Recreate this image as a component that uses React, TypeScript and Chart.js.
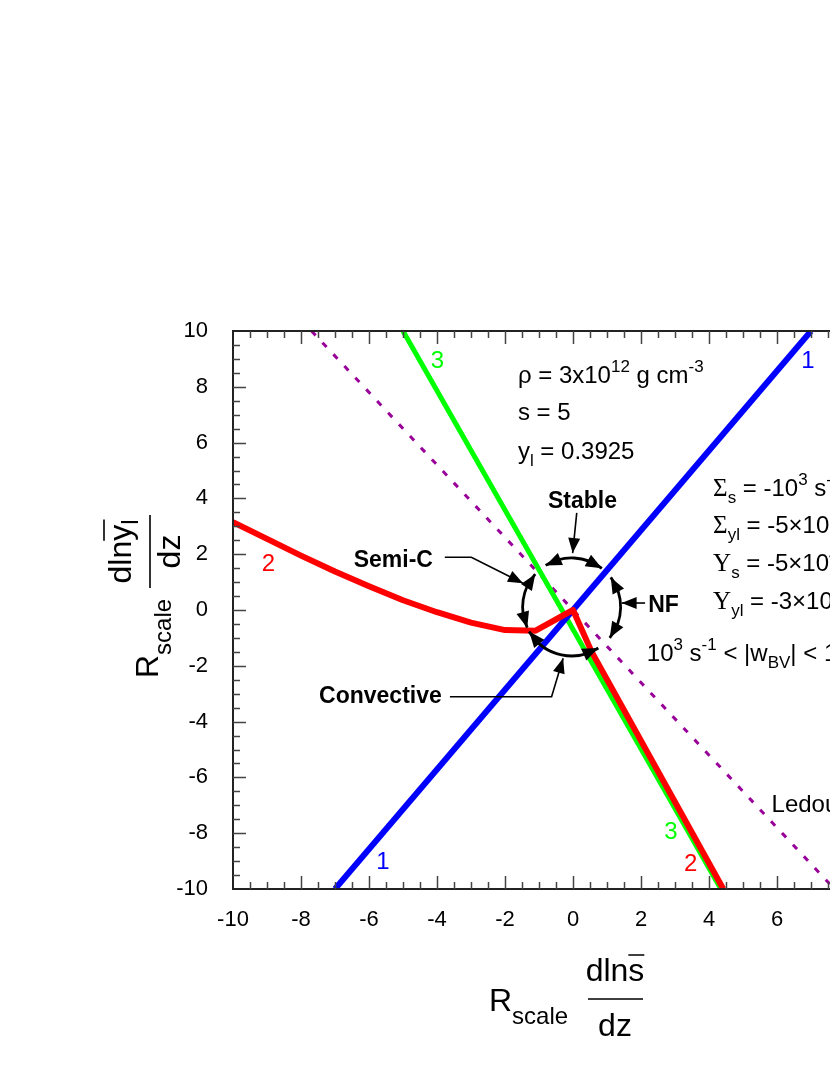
import React, { useEffect, useRef } from 'react';
import { Chart, registerables } from 'chart.js';

Chart.register(...registerables);

// ---------- axes ----------
const X_MIN = -10;
const X_MAX = 10;
const Y_MIN = -10;
const Y_MAX = 10;
const MAJOR_STEP = 2;
const MINOR_STEP = 0.5;

// ---------- curve 1 (blue) ----------
const curve1X = [-7, 7];
const curve1Y = [-10, 10];

// ---------- curve 3 (green) ----------
const curve3X = [-5, 4.35];
const curve3Y = [10, -10];

// ---------- curve 2 (red) ----------
const curve2X = [-10, -9, -8, -7, -6, -5, -4, -3, -2, -1.1, 0, 0.55, 4.42];
const curve2Y = [3.15, 2.55, 1.95, 1.38, 0.85, 0.35, -0.08, -0.45, -0.72, -0.74, 0, -1.5, -10];

// ---------- Ledoux criterion (purple dotted) ----------
const ledouxX = [-7.69, 7.69];
const ledouxY = [10, -10];

// ---------- colours / fonts ----------
const BLUE = '#0000ff';
const GREEN = '#00ff00';
const RED = '#ff0000';
const PURPLE = '#990099';
const SANS = "'Liberation Sans', Arial, Helvetica, sans-serif";
const SERIF = "'Liberation Serif', 'Times New Roman', serif";

const pts = (xs: number[], ys: number[]) => xs.map((x, i) => ({ x, y: ys[i] }));

type Seg = { t: string; s: number; dy?: number; serif?: boolean; bold?: boolean };

const sub = (t: string): Seg => ({ t, s: 17, dy: 7 });
const sup = (t: string): Seg => ({ t, s: 17, dy: -11 });
const txt = (t: string): Seg => ({ t, s: 24 });
const grk = (t: string): Seg => ({ t, s: 25, serif: true });

// text annotations in data coordinates (left / baseline)
const infoLines: { x: number; y: number; segs: Seg[] }[] = [
  { x: -1.62, y: 8.15, segs: [txt('ρ = 3x10'), sup('12'), txt(' g cm'), sup('-3')] },
  { x: -1.62, y: 6.8, segs: [txt('s = 5')] },
  { x: -1.62, y: 5.42, segs: [txt('y'), sub('l'), txt(' = 0.3925')] },
  { x: 4.12, y: 4.08, segs: [grk('Σ'), sub('s'), txt(' = -10'), sup('3'), txt(' s'), sup('-1')] },
  { x: 4.12, y: 2.76, segs: [grk('Σ'), sub('yl'), txt(' = -5×10'), sup('2'), txt(' s'), sup('-1')] },
  { x: 4.12, y: 1.4, segs: [grk('Υ'), sub('s'), txt(' = -5×10'), sup('4'), txt(' s'), sup('-1')] },
  { x: 4.12, y: 0.03, segs: [grk('Υ'), sub('yl'), txt(' = -3×10'), sup('3'), txt(' s'), sup('-1')] },
  {
    x: 2.17,
    y: -1.82,
    segs: [txt('10'), sup('3'), txt(' s'), sup('-1'), txt(' < |w'), sub('BV'), txt('| < 10'), sup('4'), txt(' s'), sup('-1')],
  },
  { x: 5.84, y: -7.23, segs: [txt('Ledoux')] },
];

// curve number labels (centre)
const curveLabels = [
  { t: '3', x: -3.99, y: 8.92, c: GREEN },
  { t: '1', x: 6.91, y: 8.92, c: BLUE },
  { t: '2', x: -8.96, y: 1.65, c: RED },
  { t: '1', x: -5.59, y: -9.03, c: BLUE },
  { t: '3', x: 2.88, y: -7.97, c: GREEN },
  { t: '2', x: 3.46, y: -9.1, c: RED },
];

// bold regime labels (anchor / baseline)
const regimeLabels: { t: string; x: number; y: number; align: CanvasTextAlign }[] = [
  { t: 'Stable', x: 0.28, y: 3.66, align: 'center' },
  { t: 'Semi-C', x: -4.12, y: 1.55, align: 'right' },
  { t: 'NF', x: 2.21, y: -0.06, align: 'left' },
  { t: 'Convective', x: -3.86, y: -3.33, align: 'right' },
];

// callout arrows (polyline in data coords, arrow at last point)
const callouts: number[][][] = [
  [[0.11, 3.48], [-0.01, 2.04]],
  [[-3.77, 1.89], [-2.99, 1.89], [-1.47, 0.96]],
  [[2.12, 0.25], [1.43, 0.25]],
  [[-3.62, -3.11], [-0.63, -3.11], [-0.29, -1.73]],
];

// regime circle
const CIRCLE_CX = -0.04;
const CIRCLE_CY = 0.11;
const CIRCLE_R_PX = 49;
// arcs (canvas degrees, start tip -> end tip)
const circleArcs = [
  [-122, -52],
  [-37, 39],
  [57, 150],
  [155, 222],
];

function fontOf(s: Seg) {
  return `${s.bold ? 'bold ' : ''}${s.s}px ${s.serif ? SERIF : SANS}`;
}

function drawRich(ctx: CanvasRenderingContext2D, segs: Seg[], x: number, y: number) {
  ctx.textAlign = 'left';
  ctx.textBaseline = 'alphabetic';
  let cx = x;
  for (const s of segs) {
    ctx.font = fontOf(s);
    ctx.fillText(s.t, cx, y + (s.dy || 0));
    cx += ctx.measureText(s.t).width;
  }
}

function arrowHead(ctx: CanvasRenderingContext2D, tx: number, ty: number, fx: number, fy: number, L = 14, W = 11) {
  const dx = tx - fx;
  const dy = ty - fy;
  const d = Math.hypot(dx, dy) || 1;
  const ux = dx / d;
  const uy = dy / d;
  const bx = tx - ux * L;
  const by = ty - uy * L;
  ctx.beginPath();
  ctx.moveTo(tx, ty);
  ctx.lineTo(bx - (uy * W) / 2, by + (ux * W) / 2);
  ctx.lineTo(bx + (uy * W) / 2, by - (ux * W) / 2);
  ctx.closePath();
  ctx.fill();
}

const overlay = {
  id: 'overlay',
  afterDraw(chart: any) {
    const { ctx, chartArea } = chart;
    const { left, right, top, bottom } = chartArea;
    const xs = chart.scales.x;
    const ys = chart.scales.y;
    const px = (v: number) => xs.getPixelForValue(v);
    const py = (v: number) => ys.getPixelForValue(v);
    ctx.save();

    // frame
    ctx.strokeStyle = '#222';
    ctx.lineWidth = 2;
    ctx.strokeRect(left, top, right - left, bottom - top);

    // inward ticks
    ctx.strokeStyle = '#444';
    ctx.lineWidth = 1.5;
    const nx = Math.round((X_MAX - X_MIN) / MINOR_STEP);
    for (let i = 1; i < nx; i++) {
      const v = X_MIN + i * MINOR_STEP;
      const len = Math.abs(v / MAJOR_STEP - Math.round(v / MAJOR_STEP)) < 1e-6 ? 13 : 7;
      const p = Math.round(px(v)) + 0.5;
      ctx.beginPath();
      ctx.moveTo(p, bottom);
      ctx.lineTo(p, bottom - len);
      ctx.moveTo(p, top);
      ctx.lineTo(p, top + len);
      ctx.stroke();
    }
    const ny = Math.round((Y_MAX - Y_MIN) / MINOR_STEP);
    for (let i = 1; i < ny; i++) {
      const v = Y_MIN + i * MINOR_STEP;
      const len = Math.abs(v / MAJOR_STEP - Math.round(v / MAJOR_STEP)) < 1e-6 ? 13 : 7;
      const p = Math.round(py(v)) + 0.5;
      ctx.beginPath();
      ctx.moveTo(left, p);
      ctx.lineTo(left + len, p);
      ctx.moveTo(right, p);
      ctx.lineTo(right - len, p);
      ctx.stroke();
    }

    // info texts
    ctx.fillStyle = '#000';
    for (const l of infoLines) drawRich(ctx, l.segs, px(l.x), py(l.y));

    // curve labels
    ctx.font = `24px ${SANS}`;
    ctx.textAlign = 'center';
    ctx.textBaseline = 'middle';
    for (const c of curveLabels) {
      ctx.fillStyle = c.c;
      ctx.fillText(c.t, px(c.x), py(c.y));
    }

    // regime labels
    ctx.fillStyle = '#000';
    ctx.font = `bold 23px ${SANS}`;
    ctx.textBaseline = 'alphabetic';
    for (const r of regimeLabels) {
      ctx.textAlign = r.align;
      ctx.fillText(r.t, px(r.x), py(r.y));
    }

    // callouts
    ctx.strokeStyle = '#000';
    ctx.lineWidth = 1.6;
    for (const c of callouts) {
      ctx.beginPath();
      c.forEach((p, i) => (i === 0 ? ctx.moveTo(px(p[0]), py(p[1])) : ctx.lineTo(px(p[0]), py(p[1]))));
      ctx.stroke();
      const a = c[c.length - 2];
      const b = c[c.length - 1];
      arrowHead(ctx, px(b[0]), py(b[1]), px(a[0]), py(a[1]), 15, 12);
    }

    // regime circle with arrows
    const ccx = px(CIRCLE_CX);
    const ccy = py(CIRCLE_CY);
    const R = CIRCLE_R_PX;
    const rad = (d: number) => (d * Math.PI) / 180;
    const on = (a: number) => [ccx + R * Math.cos(a), ccy + R * Math.sin(a)];
    ctx.lineWidth = 2.8;
    for (const [a0, a1] of circleArcs) {
      const s = rad(a0);
      const e = rad(a1);
      ctx.beginPath();
      ctx.arc(ccx, ccy, R, s, e);
      ctx.stroke();
      const dl = 15 / R;
      const t0 = on(s);
      const f0 = on(s + dl);
      arrowHead(ctx, t0[0], t0[1], f0[0], f0[1], 16, 13);
      const t1 = on(e);
      const f1 = on(e - dl);
      arrowHead(ctx, t1[0], t1[1], f1[0], f1[1], 16, 13);
    }

    // x axis title
    ctx.fillStyle = '#000';
    ctx.textAlign = 'left';
    ctx.textBaseline = 'alphabetic';
    ctx.font = `32px ${SANS}`;
    ctx.fillText('R', 489, 1011);
    const rW = ctx.measureText('R').width;
    ctx.font = `24px ${SANS}`;
    ctx.fillText('scale', 489 + rW, 1024);
    ctx.font = `32px ${SANS}`;
    const fc = 615;
    const numW = ctx.measureText('dlns').width;
    const sW = ctx.measureText('s').width;
    const n0 = fc - numW / 2;
    ctx.fillText('dlns', n0, 981);
    ctx.lineWidth = 1.6;
    ctx.beginPath();
    ctx.moveTo(n0 + numW - sW, 955);
    ctx.lineTo(n0 + numW, 955);
    ctx.moveTo(588, 999);
    ctx.lineTo(643, 999);
    ctx.stroke();
    ctx.textAlign = 'center';
    ctx.fillText('dz', fc, 1036);

    // y axis title (rotated): local x = -screenY, local y = screenX
    ctx.save();
    ctx.rotate(-Math.PI / 2);
    ctx.textAlign = 'left';
    ctx.font = `32px ${SANS}`;
    ctx.fillText('R', -678, 158);
    const rW2 = ctx.measureText('R').width;
    ctx.font = `24px ${SANS}`;
    ctx.fillText('scale', -678 + rW2, 171);
    ctx.font = `32px ${SANS}`;
    const wDln = ctx.measureText('dln').width;
    const wY = ctx.measureText('y').width;
    ctx.font = `24px ${SANS}`;
    const wL = ctx.measureText('l').width;
    const totalNum = wDln + wY + wL;
    const yc = -551.5;
    const m0 = yc - totalNum / 2;
    ctx.font = `32px ${SANS}`;
    ctx.fillText('dlny', m0, 131);
    ctx.font = `24px ${SANS}`;
    ctx.fillText('l', m0 + wDln + wY, 138);
    ctx.beginPath();
    ctx.moveTo(m0 + wDln, 104);
    ctx.lineTo(m0 + wDln + wY + wL, 104);
    ctx.moveTo(-588, 150);
    ctx.lineTo(-515, 150);
    ctx.stroke();
    ctx.font = `32px ${SANS}`;
    ctx.textAlign = 'center';
    ctx.fillText('dz', yc, 180);
    ctx.restore();

    ctx.restore();
  },
};

export default function App() {
  const ref = useRef<HTMLCanvasElement>(null);
  useEffect(() => {
    const canvas = ref.current;
    if (!canvas) return;
    const chart = new Chart(canvas, {
      type: 'scatter',
      data: {
        datasets: [
          { data: pts(curve2X, curve2Y), borderColor: RED, borderWidth: 6, showLine: true, pointRadius: 0, clip: 0, borderJoinStyle: 'round' },
          { data: pts(curve1X, curve1Y), borderColor: BLUE, borderWidth: 6, showLine: true, pointRadius: 0, clip: 0 },
          { data: pts(curve3X, curve3Y), borderColor: GREEN, borderWidth: 5, showLine: true, pointRadius: 0, clip: 0 },
          { data: pts(ledouxX, ledouxY), borderColor: PURPLE, borderWidth: 3, borderDash: [6, 10], showLine: true, pointRadius: 0, clip: 0 },
        ] as any,
      },
      options: {
        responsive: false,
        maintainAspectRatio: false,
        animation: false,
        devicePixelRatio: 1,
        layout: { padding: { left: 0, top: 331, right: 87, bottom: 146 } },
        plugins: { legend: { display: false }, tooltip: { enabled: false } },
        scales: {
          x: {
            type: 'linear',
            min: X_MIN,
            max: X_MAX,
            ticks: { stepSize: MAJOR_STEP, font: { family: SANS, size: 22 }, color: '#000', padding: 10, maxRotation: 0, autoSkip: false },
            grid: { display: false },
            border: { display: false },
            afterFit: (s: any) => {
              s.height = 40;
            },
          },
          y: {
            type: 'linear',
            min: Y_MIN,
            max: Y_MAX,
            ticks: { stepSize: MAJOR_STEP, font: { family: SANS, size: 22 }, color: '#000', padding: 17, autoSkip: false },
            grid: { display: false },
            border: { display: false },
            afterFit: (s: any) => {
              s.width = 233;
            },
          },
        },
      } as any,
      plugins: [overlay],
    });
    return () => chart.destroy();
  }, []);
  return (
    <div style={{ position: 'absolute', left: 0, top: 0, width: 830, height: 1075, overflow: 'hidden', background: '#fff' }}>
      <canvas ref={ref} width={1000} height={1075} style={{ display: 'block', width: 1000, height: 1075 }} />
    </div>
  );
}
